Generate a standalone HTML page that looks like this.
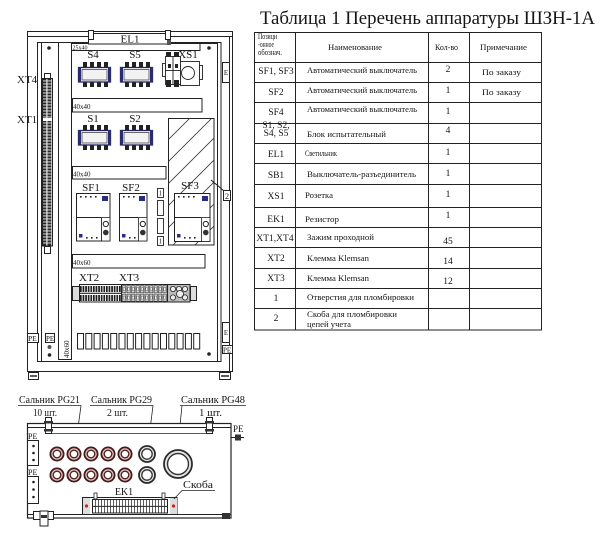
<!DOCTYPE html>
<html><head><meta charset="utf-8">
<style>
html,body{margin:0;padding:0;background:#fff;}
svg{display:block;}
text{font-family:"Liberation Serif","Noto Serif CJK SC",serif;fill:#151515;}
</style></head><body>
<svg width="600" height="537" viewBox="0 0 600 537" xmlns="http://www.w3.org/2000/svg">
<defs>
  <pattern id="strip" patternUnits="userSpaceOnUse" x="42" y="78" width="5" height="3">
    <rect width="5" height="3" fill="#e8e8e8"/>
    <rect x="0.5" y="0.4" width="3.8" height="2.1" fill="#2a2a2a"/>
  </pattern>
  <pattern id="xt2" patternUnits="userSpaceOnUse" x="80" y="285" width="2.6" height="17">
    <rect width="2.6" height="17" fill="#fff"/>
    <rect x="0" y="1" width="1.7" height="6" fill="#1e1e1e"/>
    <rect x="0" y="10" width="1.7" height="6" fill="#1e1e1e"/>
  </pattern>
  <pattern id="xt3" patternUnits="userSpaceOnUse" x="122" y="285" width="4.5" height="8.5">
    <rect width="4.5" height="8.5" fill="#f2f2f2"/>
    <rect x="0.5" y="0.6" width="3.4" height="7.2" fill="#cfcfcf" stroke="#333" stroke-width="0.6"/>
    <rect x="1.3" y="2.6" width="1.8" height="3" fill="#fff" stroke="#444" stroke-width="0.4"/>
  </pattern>
  <pattern id="ek" patternUnits="userSpaceOnUse" x="92" y="499" width="3" height="7">
    <rect width="3" height="7" fill="#fff"/>
    <rect x="0" y="0" width="0.8" height="7" fill="#333"/>
    <rect x="0" y="0" width="3" height="0.7" fill="#333"/>
  </pattern>
  <clipPath id="hclip"><rect x="168" y="118" width="46" height="127"/></clipPath>
</defs>
<rect width="600" height="537" fill="#fff"/>

<!-- ===== TITLE ===== -->
<text x="260" y="24" font-size="19" textLength="335" lengthAdjust="spacingAndGlyphs">Таблица 1 Перечень аппаратуры ШЗН-1А</text>

<!-- ===== TABLE ===== -->
<g stroke="#222" stroke-width="1" fill="none">
  <rect x="254.5" y="32.5" width="287" height="297.5"/>
  <line x1="295.5" y1="32" x2="295.5" y2="330"/>
  <line x1="428.5" y1="32" x2="428.5" y2="330"/>
  <line x1="469.5" y1="32" x2="469.5" y2="330"/>
  <line x1="254" y1="62.5" x2="541" y2="62.5"/>
  <line x1="254" y1="82.5" x2="541" y2="82.5"/>
  <line x1="254" y1="102.5" x2="541" y2="102.5"/>
  <line x1="254" y1="123.5" x2="541" y2="123.5"/>
  <line x1="254" y1="143.5" x2="541" y2="143.5"/>
  <line x1="254" y1="163.5" x2="541" y2="163.5"/>
  <line x1="254" y1="184.5" x2="541" y2="184.5"/>
  <line x1="254" y1="207.5" x2="541" y2="207.5"/>
  <line x1="254" y1="227.5" x2="541" y2="227.5"/>
  <line x1="254" y1="247.5" x2="541" y2="247.5"/>
  <line x1="254" y1="268.5" x2="541" y2="268.5"/>
  <line x1="254" y1="288.5" x2="541" y2="288.5"/>
  <line x1="254" y1="308.5" x2="541" y2="308.5"/>
</g>
<g font-size="8">
  <text x="258" y="39" textLength="19" lengthAdjust="spacingAndGlyphs">Позици</text>
  <text x="258" y="47" textLength="16" lengthAdjust="spacingAndGlyphs">-онное</text>
  <text x="258" y="55" textLength="24" lengthAdjust="spacingAndGlyphs">обознач.</text>
  <text x="328" y="50" textLength="54" lengthAdjust="spacingAndGlyphs">Наименование</text>
  <text x="435" y="50" textLength="23" lengthAdjust="spacingAndGlyphs">Кол-во</text>
  <text x="480" y="50" textLength="47" lengthAdjust="spacingAndGlyphs">Примечание</text>
</g>
<!-- designators -->
<g font-size="9.5" text-anchor="middle">
  <text x="276" y="74">SF1, SF3</text>
  <text x="276" y="95">SF2</text>
  <text x="276" y="115">SF4</text>
  <text x="276" y="128">S1, S2,</text>
  <text x="276" y="136">S4, S5</text>
  <text x="276" y="157">EL1</text>
  <text x="276" y="178">SB1</text>
  <text x="276" y="199">XS1</text>
  <text x="276" y="222">EK1</text>
  <text x="275" y="241">XT1,XT4</text>
  <text x="276" y="261">XT2</text>
  <text x="276" y="281">XT3</text>
  <text x="276" y="301">1</text>
  <text x="276" y="321">2</text>
  <text x="448" y="72">2</text>
  <text x="448" y="93">1</text>
  <text x="448" y="114">1</text>
  <text x="448" y="133">4</text>
  <text x="448" y="155">1</text>
  <text x="448" y="176">1</text>
  <text x="448" y="197">1</text>
  <text x="448" y="218">1</text>
  <text x="448" y="244">45</text>
  <text x="448" y="264">14</text>
  <text x="448" y="284">12</text>
</g>
<g font-size="8.5">
  <text x="307" y="73" textLength="110" lengthAdjust="spacingAndGlyphs">Автоматический выключатель</text>
  <text x="307" y="93" textLength="110" lengthAdjust="spacingAndGlyphs">Автоматический выключатель</text>
  <text x="307" y="112" textLength="110" lengthAdjust="spacingAndGlyphs">Автоматический выключатель</text>
  <text x="307" y="137" textLength="79" lengthAdjust="spacingAndGlyphs">Блок испытательный</text>
  <text x="305" y="156" textLength="32" lengthAdjust="spacingAndGlyphs">Светильник</text>
  <text x="307" y="177" textLength="109" lengthAdjust="spacingAndGlyphs">Выключатель-разъединитель</text>
  <text x="305" y="198" textLength="28" lengthAdjust="spacingAndGlyphs">Розетка</text>
  <text x="305" y="222" textLength="34" lengthAdjust="spacingAndGlyphs">Резистор</text>
  <text x="307" y="240" textLength="67" lengthAdjust="spacingAndGlyphs">Зажим проходной</text>
  <text x="307" y="261" textLength="62" lengthAdjust="spacingAndGlyphs">Клемма Klemsan</text>
  <text x="307" y="281" textLength="62" lengthAdjust="spacingAndGlyphs">Клемма Klemsan</text>
  <text x="307" y="300" textLength="107" lengthAdjust="spacingAndGlyphs">Отверстия для пломбировки</text>
  <text x="307" y="317" textLength="90" lengthAdjust="spacingAndGlyphs">Скоба для пломбировки</text>
  <text x="307" y="327" textLength="44" lengthAdjust="spacingAndGlyphs">цепей учета</text>
  <text x="482" y="75" textLength="39" lengthAdjust="spacingAndGlyphs">По заказу</text>
  <text x="482" y="95" textLength="39" lengthAdjust="spacingAndGlyphs">По заказу</text>
</g>

<!-- ===== FRONT VIEW OF CABINET ===== -->
<g fill="none" stroke="#222" stroke-width="1">
  <rect x="27.5" y="31.5" width="205" height="340"/>
  <line x1="27" y1="36.5" x2="232" y2="36.5"/>
  <rect x="37.5" y="42.5" width="183.5" height="319"/>
  <line x1="41.5" y1="42" x2="41.5" y2="362"/>
  <line x1="58.5" y1="43" x2="58.5" y2="360"/>
  <line x1="71.5" y1="43" x2="71.5" y2="360"/>
  <line x1="58" y1="359.5" x2="72" y2="359.5"/>
  <line x1="217.5" y1="43" x2="217.5" y2="362"/>
  <line x1="71" y1="43.5" x2="217" y2="43.5"/>
  <line x1="229.5" y1="36" x2="229.5" y2="371"/>
</g>
<!-- 25x40 bar and EL1 -->
<rect x="71.5" y="43.5" width="128.5" height="7" fill="#fff" stroke="#222"/>
<text x="72.5" y="49.5" font-size="6">25x40</text>
<rect x="88.5" y="33.5" width="81" height="10.5" fill="#fff" stroke="#222"/>
<rect x="88.5" y="30.5" width="5" height="9" fill="#fff" stroke="#222"/>
<rect x="165.5" y="30.5" width="5" height="9" fill="#fff" stroke="#222"/>
<rect x="167" y="40" width="4" height="5" fill="#555"/>
<text x="130" y="42.5" font-size="11" text-anchor="middle">EL1</text>
<circle cx="49" cy="48" r="1.8" fill="#222"/>
<circle cx="209" cy="48" r="1.8" fill="#222"/>

<!-- S blocks -->
<g id="sb">
  <g fill="#222">
    <rect x="83" y="62" width="4" height="5"/><rect x="90" y="62" width="4" height="5"/><rect x="97" y="62" width="4" height="5"/><rect x="104" y="62" width="4" height="5"/>
    <rect x="83" y="82" width="4" height="5"/><rect x="90" y="82" width="4" height="5"/><rect x="97" y="82" width="4" height="5"/><rect x="104" y="82" width="4" height="5"/>
  </g>
  <rect x="78.5" y="67.5" width="32" height="14.5" fill="#fff" stroke="#22225a" stroke-width="1.3"/>
  <rect x="82" y="69.5" width="25" height="10.5" fill="#f2f2f2" stroke="#444" stroke-width="0.8"/>
  <rect x="78" y="67" width="3" height="15.5" fill="#2b2b70"/>
  <rect x="108" y="67" width="3" height="15.5" fill="#2b2b70"/>
</g>
<use href="#sb" x="42" y="0"/>
<use href="#sb" x="0" y="63"/>
<use href="#sb" x="42" y="63"/>
<g font-size="11" text-anchor="middle">
  <text x="93" y="58">S4</text>
  <text x="135" y="58">S5</text>
  <text x="93" y="122">S1</text>
  <text x="135" y="122">S2</text>
  <text x="188" y="58">XS1</text>
</g>
<!-- XS1 / SB1 -->
<g stroke="#222" stroke-width="0.9" fill="#fff">
  <rect x="162.5" y="63.5" width="3" height="13"/>
  <rect x="165.5" y="56.5" width="15" height="28"/>
  <line x1="173" y1="56.5" x2="173" y2="84.5"/>
  <line x1="165.5" y1="70.5" x2="180.5" y2="70.5"/>
  <rect x="180.5" y="61.5" width="19" height="24"/>
  <rect x="199.5" y="65.5" width="3" height="14"/>
  <circle cx="188" cy="73" r="6.5"/>
</g>
<g fill="#222">
  <rect x="166" y="52" width="5" height="5"/><rect x="174" y="52" width="5" height="5"/>
  <rect x="166" y="80" width="5" height="7"/><rect x="174" y="80" width="5" height="7"/>
  <rect x="168" y="64" width="3" height="4"/><rect x="175" y="64" width="3" height="4"/>
</g>
<!-- E box right top -->
<rect x="222.5" y="62.5" width="7" height="20" fill="#fff" stroke="#222"/>
<text x="226" y="75" font-size="7" text-anchor="middle">E</text>

<!-- XT strip -->
<rect x="44.5" y="73.5" width="6" height="5" fill="#fff" stroke="#222"/>
<rect x="42.5" y="78.5" width="10" height="167.5" fill="url(#strip)" stroke="#222"/>
<rect x="43" y="118" width="9" height="3" fill="#fff"/>
<rect x="44.5" y="246.5" width="6" height="7" fill="#fff" stroke="#222"/>
<text x="17" y="83" font-size="11">XT4</text>
<text x="17" y="123" font-size="11">XT1</text>

<!-- 40x40 bars -->
<rect x="72.5" y="98.5" width="129.5" height="13.5" fill="#fff" stroke="#222"/>
<text x="73" y="109" font-size="7">40x40</text>
<rect x="72.5" y="166.5" width="93.5" height="12.5" fill="#fff" stroke="#222"/>
<text x="73" y="176.5" font-size="7">40x40</text>

<!-- hatched area -->
<rect x="168.5" y="118.5" width="45.5" height="126.5" fill="#fff" stroke="#222"/>
<g clip-path="url(#hclip)" stroke="#333" stroke-width="0.8">
  <line x1="168" y1="140" x2="214" y2="94"/>
  <line x1="168" y1="162" x2="214" y2="116"/>
  <line x1="168" y1="184" x2="214" y2="138"/>
  <line x1="168" y1="206" x2="214" y2="160"/>
  <line x1="168" y1="228" x2="214" y2="182"/>
  <line x1="168" y1="250" x2="214" y2="204"/>
  <line x1="168" y1="272" x2="214" y2="226"/>
  <line x1="168" y1="294" x2="214" y2="248"/>
</g>
<line x1="211" y1="180" x2="223.5" y2="190.5" stroke="#222"/>
<rect x="223.5" y="190.5" width="7" height="10" fill="#fff" stroke="#222"/>
<text x="227" y="199" font-size="8" text-anchor="middle">2</text>

<!-- SF blocks -->
<g id="sf1">
  <rect x="76.5" y="193.5" width="33.5" height="47.5" fill="#fff" stroke="#222"/>
  <line x1="76.5" y1="217.5" x2="101" y2="217.5" stroke="#222"/>
  <line x1="101.5" y1="217.5" x2="101.5" y2="241" stroke="#222"/>
  <rect x="101.5" y="217.5" width="8.5" height="23.5" fill="#fff" stroke="#222" stroke-width="0.8"/>
  <circle cx="105.8" cy="224" r="2.6" fill="#fff" stroke="#222"/>
  <circle cx="105.8" cy="232.5" r="2.8" fill="#333"/>
  <g fill="#222">
    <rect x="80" y="196" width="1.6" height="1.6"/><rect x="85" y="196" width="1.6" height="1.6"/><rect x="90" y="196" width="1.6" height="1.6"/><rect x="95" y="196" width="1.6" height="1.6"/>
    <rect x="86" y="237" width="1.6" height="1.6"/><rect x="91" y="237" width="1.6" height="1.6"/><rect x="96" y="237" width="1.6" height="1.6"/>
  </g>
  <rect x="102" y="196" width="6" height="5" fill="#2b2b80"/>
  <rect x="79" y="234" width="3.5" height="3.5" fill="#2b2b80"/>
</g>
<g transform="translate(43,0)">
  <rect x="76.5" y="193.5" width="27.5" height="47.5" fill="#fff" stroke="#222"/>
  <line x1="76.5" y1="217.5" x2="95" y2="217.5" stroke="#222"/>
  <rect x="95.5" y="217.5" width="8.5" height="23.5" fill="#fff" stroke="#222" stroke-width="0.8"/>
  <circle cx="99.8" cy="224" r="2.6" fill="#fff" stroke="#222"/>
  <circle cx="99.8" cy="232.5" r="2.8" fill="#333"/>
  <g fill="#222">
    <rect x="80" y="196" width="1.6" height="1.6"/><rect x="85" y="196" width="1.6" height="1.6"/><rect x="90" y="196" width="1.6" height="1.6"/>
    <rect x="86" y="237" width="1.6" height="1.6"/><rect x="91" y="237" width="1.6" height="1.6"/>
  </g>
  <rect x="96" y="196" width="6" height="5" fill="#2b2b80"/>
  <rect x="79" y="234" width="3.5" height="3.5" fill="#2b2b80"/>
</g>
<g transform="translate(98,0)">
  <rect x="76.5" y="193.5" width="35.5" height="48" fill="#fff" stroke="#222"/>
  <line x1="76.5" y1="217.5" x2="103" y2="217.5" stroke="#222"/>
  <rect x="103.5" y="217.5" width="8.5" height="24" fill="#fff" stroke="#222" stroke-width="0.8"/>
  <circle cx="107.8" cy="224" r="2.6" fill="#fff" stroke="#222"/>
  <circle cx="107.8" cy="232.5" r="2.8" fill="#333"/>
  <g fill="#222">
    <rect x="80" y="196" width="1.6" height="1.6"/><rect x="85" y="196" width="1.6" height="1.6"/><rect x="90" y="196" width="1.6" height="1.6"/><rect x="95" y="196" width="1.6" height="1.6"/>
    <rect x="86" y="237" width="1.6" height="1.6"/><rect x="91" y="237" width="1.6" height="1.6"/><rect x="96" y="237" width="1.6" height="1.6"/>
  </g>
  <rect x="104" y="196" width="6" height="5" fill="#2b2b80"/>
  <rect x="79" y="234" width="3.5" height="3.5" fill="#2b2b80"/>
</g>
<g font-size="11" text-anchor="middle">
  <text x="91" y="191">SF1</text>
  <text x="131" y="191">SF2</text>
  <text x="190" y="189">SF3</text>
</g>
<!-- small stack -->
<g fill="#fff" stroke="#222" stroke-width="0.9">
  <rect x="157.5" y="188.5" width="6" height="9"/>
  <rect x="157.5" y="200.5" width="6" height="15"/>
  <rect x="157.5" y="218.5" width="6" height="15"/>
  <rect x="157.5" y="236.5" width="6" height="9"/>
</g>
<text x="160.5" y="195.5" font-size="7" text-anchor="middle">1</text>
<text x="160.5" y="243.5" font-size="7" text-anchor="middle">1</text>

<!-- 40x60 bar -->
<rect x="72.5" y="254.5" width="132.5" height="13.5" fill="#fff" stroke="#222"/>
<text x="73" y="265" font-size="7">40x60</text>
<g font-size="11">
  <text x="79" y="281">XT2</text>
  <text x="119" y="281">XT3</text>
</g>

<!-- terminal row -->
<rect x="72.5" y="286.5" width="7" height="14" fill="#ddd" stroke="#222"/>
<rect x="79.5" y="284.5" width="42" height="17.5" fill="url(#xt2)" stroke="#222"/>
<line x1="80" y1="293.3" x2="121" y2="293.3" stroke="#222" stroke-width="1.2"/>
<rect x="121.5" y="284.5" width="46" height="17.5" fill="url(#xt3)" stroke="#222"/>
<rect x="167.5" y="284.5" width="22.5" height="17.5" fill="#bbb" stroke="#222"/>
<g fill="#eee" stroke="#222" stroke-width="0.8">
  <circle cx="173" cy="289" r="2.6"/><circle cx="179" cy="289" r="2.6"/><circle cx="185" cy="289" r="2.6"/>
  <circle cx="173" cy="297.5" r="2.6"/><circle cx="180" cy="294" r="3.5"/><circle cx="185" cy="297.5" r="2.6"/>
</g>
<rect x="190.5" y="286.5" width="6" height="14" fill="#ddd" stroke="#222"/>

<!-- small rectangles row -->
<g fill="#fff" stroke="#222" stroke-width="1">
  <rect x="77.5" y="333.5" width="6" height="15.5"/>
  <rect x="85.8" y="333.5" width="6" height="15.5"/>
  <rect x="94.1" y="333.5" width="6" height="15.5"/>
  <rect x="102.4" y="333.5" width="6" height="15.5"/>
  <rect x="110.7" y="333.5" width="6" height="15.5"/>
  <rect x="119" y="333.5" width="6" height="15.5"/>
  <rect x="127.3" y="333.5" width="6" height="15.5"/>
  <rect x="135.6" y="333.5" width="6" height="15.5"/>
  <rect x="143.9" y="333.5" width="6" height="15.5"/>
  <rect x="152.2" y="333.5" width="6" height="15.5"/>
  <rect x="160.5" y="333.5" width="6" height="15.5"/>
  <rect x="168.8" y="333.5" width="6" height="15.5"/>
  <rect x="177.1" y="333.5" width="6" height="15.5"/>
  <rect x="185.4" y="333.5" width="6" height="15.5"/>
  <rect x="193.7" y="333.5" width="6" height="15.5"/>
</g>
<text transform="translate(69,358) rotate(-90)" font-size="7">40x60</text>

<!-- PE marks -->
<rect x="27.5" y="333.5" width="11" height="9" fill="#fff" stroke="#222"/>
<text x="28" y="341" font-size="7.5">PE</text>
<rect x="45.5" y="333.5" width="9" height="9" fill="#fff" stroke="#222"/>
<text x="46" y="341" font-size="7">PE</text>
<circle cx="49.5" cy="347" r="2" fill="#555"/>
<circle cx="49.5" cy="355" r="1.8" fill="#222"/>
<circle cx="209" cy="354" r="1.8" fill="#222"/>
<rect x="222.5" y="322.5" width="7" height="20" fill="#fff" stroke="#222"/>
<text x="226" y="335" font-size="7" text-anchor="middle">E</text>
<rect x="222.5" y="345.5" width="10" height="8" fill="#fff" stroke="#222"/>
<text x="223" y="352.5" font-size="7">PE</text>
<!-- feet -->
<rect x="28.5" y="372.5" width="10" height="7" fill="#fff" stroke="#222"/>
<line x1="30" y1="376" x2="37" y2="376" stroke="#222" stroke-width="1.5"/>
<rect x="219.5" y="372.5" width="11" height="7" fill="#fff" stroke="#222"/>
<line x1="221" y1="376" x2="229" y2="376" stroke="#222" stroke-width="1.5"/>

<!-- ===== BOTTOM VIEW ===== -->
<g font-size="10">
  <text x="19" y="403" textLength="61" lengthAdjust="spacingAndGlyphs">Сальник PG21</text>
  <text x="33" y="416" textLength="24" lengthAdjust="spacingAndGlyphs">10 шт.</text>
  <text x="91" y="403" textLength="61" lengthAdjust="spacingAndGlyphs">Сальник PG29</text>
  <text x="107" y="416" textLength="21" lengthAdjust="spacingAndGlyphs">2 шт.</text>
  <text x="181" y="403" textLength="64" lengthAdjust="spacingAndGlyphs">Сальник PG48</text>
  <text x="199" y="416" textLength="23" lengthAdjust="spacingAndGlyphs">1 шт.</text>
</g>
<g stroke="#222" stroke-width="0.8" fill="none">
  <line x1="18" y1="405.5" x2="81" y2="405.5"/>
  <line x1="90" y1="405.5" x2="153" y2="405.5"/>
  <line x1="180" y1="405.5" x2="246" y2="405.5"/>
  <line x1="81" y1="405.5" x2="75.5" y2="447"/>
  <line x1="153" y1="405.5" x2="148" y2="446"/>
  <line x1="182" y1="405.5" x2="177.5" y2="450"/>
</g>

<rect x="27.5" y="423.5" width="203.5" height="94.5" fill="#fff" stroke="#222" stroke-width="1.2"/>
<line x1="27" y1="427.5" x2="231" y2="427.5" stroke="#222"/>
<line x1="47" y1="433.5" x2="210" y2="433.5" stroke="#222" stroke-width="0.8"/>
<line x1="27" y1="514.5" x2="231" y2="514.5" stroke="#222"/>
<!-- brackets top -->
<rect x="45.5" y="417.5" width="6" height="16" fill="#fff" stroke="#222"/>
<rect x="44" y="421" width="9" height="2.5" fill="#333"/>
<rect x="44" y="429" width="9" height="2.5" fill="#333"/>
<rect x="206.5" y="417.5" width="6" height="16" fill="#fff" stroke="#222"/>
<rect x="205" y="421" width="9" height="2.5" fill="#333"/>
<rect x="205" y="429" width="9" height="2.5" fill="#333"/>
<!-- bottom hinges -->
<rect x="33.5" y="511.5" width="20" height="8" fill="#fff" stroke="#222"/>
<rect x="40" y="511" width="8" height="15" fill="#fff" stroke="#222"/>
<rect x="41" y="515" width="6" height="3" fill="#333"/>
<rect x="222" y="513" width="8" height="6" fill="#333"/>
<!-- PE right -->
<text x="233" y="432" font-size="9">PE</text>
<line x1="231" y1="437.5" x2="244" y2="437.5" stroke="#222"/>
<rect x="235" y="434.5" width="6" height="6" fill="#333"/>
<!-- PE left boxes -->
<text x="28" y="439" font-size="8">PE</text>
<rect x="27.5" y="440.5" width="11" height="25" fill="#fff" stroke="#222"/>
<circle cx="33.5" cy="446" r="1.3" fill="#222"/><circle cx="33.5" cy="453" r="1.3" fill="#222"/><circle cx="33.5" cy="460" r="1.3" fill="#222"/>
<text x="28" y="475" font-size="8">PE</text>
<rect x="27.5" y="476.5" width="11" height="27" fill="#fff" stroke="#222"/>
<circle cx="33.5" cy="482" r="1.3" fill="#222"/><circle cx="33.5" cy="489.5" r="1.3" fill="#222"/><circle cx="33.5" cy="497" r="1.3" fill="#222"/>

<!-- glands PG21 -->
<g id="g21">
  <circle cx="57" cy="454" r="6.6" fill="#d9cccc" stroke="#4a1818" stroke-width="1.8"/>
  <circle cx="57" cy="454" r="3.8" fill="#fff" stroke="#5a2020" stroke-width="1.4"/>
</g>
<use href="#g21" x="17" y="0"/><use href="#g21" x="34" y="0"/><use href="#g21" x="51" y="0"/><use href="#g21" x="68" y="0"/>
<use href="#g21" x="0" y="21"/><use href="#g21" x="17" y="21"/><use href="#g21" x="34" y="21"/><use href="#g21" x="51" y="21"/><use href="#g21" x="68" y="21"/>
<!-- PG29 -->
<circle cx="147" cy="454" r="8" fill="#e4e4e4" stroke="#2a2a2a" stroke-width="1.8"/>
<circle cx="147" cy="454" r="5.2" fill="#fff" stroke="#333" stroke-width="1.3"/>
<circle cx="147" cy="475" r="8" fill="#e4e4e4" stroke="#2a2a2a" stroke-width="1.8"/>
<circle cx="147" cy="475" r="5.2" fill="#fff" stroke="#333" stroke-width="1.3"/>
<!-- PG48 -->
<circle cx="178" cy="464" r="14" fill="#e4e4e4" stroke="#2a2a2a" stroke-width="1.8"/>
<circle cx="178" cy="464" r="10.5" fill="#fff" stroke="#333" stroke-width="1.4"/>

<!-- EK1 -->
<text x="124" y="495" font-size="10" text-anchor="middle">EK1</text>
<rect x="82.5" y="497.5" width="94.5" height="17" fill="#fff" stroke="#222"/>
<rect x="83" y="498" width="7" height="16" fill="#ddd"/>
<rect x="170" y="498" width="7" height="16" fill="#ddd"/>
<circle cx="86.5" cy="506" r="1.6" fill="#c22"/>
<circle cx="173.5" cy="506" r="1.6" fill="#c22"/>
<rect x="92.5" y="499.5" width="75" height="13.5" fill="url(#ek)" stroke="#222"/>
<line x1="92" y1="506.3" x2="168" y2="506.3" stroke="#222" stroke-width="0.9"/>
<rect x="94" y="493" width="3" height="6" fill="#fff" stroke="#222" stroke-width="0.8"/>
<rect x="162" y="493" width="3" height="6" fill="#fff" stroke="#222" stroke-width="0.8"/>
<text x="183" y="488" font-size="10" textLength="30" lengthAdjust="spacingAndGlyphs">Скоба</text>
<line x1="182" y1="490.5" x2="215" y2="490.5" stroke="#222" stroke-width="0.8"/>
<line x1="182" y1="490.5" x2="174" y2="499" stroke="#222" stroke-width="0.8"/>
</svg>
</body></html>
